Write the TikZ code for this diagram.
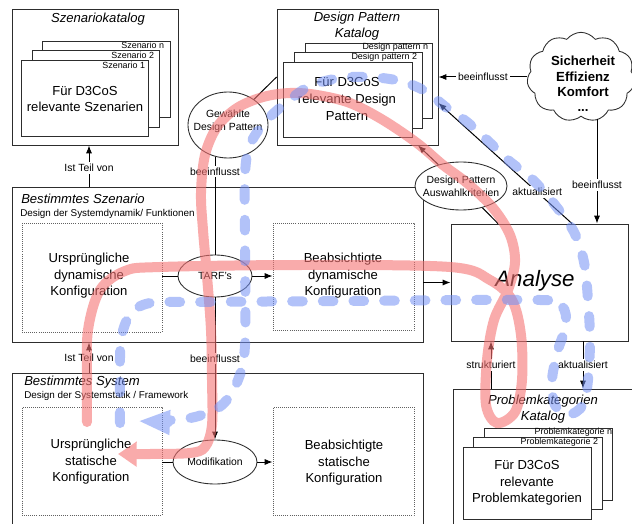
\documentclass[tikz,border=0pt]{standalone}
\usepackage{fontspec}
\setmainfont{Liberation Sans}
\usetikzlibrary{shapes.geometric,shapes.symbols,arrows.meta,fit}

\definecolor{ink}{RGB}{45,45,45}
\definecolor{redtrail}{RGB}{245,115,115}
\definecolor{bluetrail}{RGB}{115,145,245}

\newcommand\szMain{\fontsize{9.8}{12.4}\selectfont}
\newcommand\szCard{\fontsize{6.7}{8}\selectfont}
\newcommand\szSub{\fontsize{7.4}{9}\selectfont}
\newcommand\szLbl{\fontsize{7.8}{9.8}\selectfont}
\newcommand\szBig{\fontsize{16.7}{20}\selectfont}
\newcommand\szCloud{\fontsize{9.9}{11.6}\selectfont}

\begin{document}
\begin{tikzpicture}[x=0.75pt, y=-0.75pt,
  frame/.style={draw=ink, line width=0.65pt, inner sep=0pt, fit={#1}},
  card/.style={draw=ink, fill=white, line width=0.65pt, inner sep=0pt, fit={#1}},
  dotbox/.style={draw=ink!75, densely dotted, line width=0.55pt, inner sep=0pt, fit={#1}},
  oval/.style={ellipse, draw=ink, fill=white, line width=0.65pt, inner sep=0pt},
  cardlbl/.style={font=\szCard, inner sep=0.5pt, anchor=east},
  maintxt/.style={font=\szMain, align=center, inner sep=0pt},
  ovaltxt/.style={font=\szLbl, align=center, inner sep=0pt},
  title/.style={font={\szMain\itshape}, align=center, inner sep=0pt},
  sub/.style={font=\szSub, anchor=west, inner sep=0pt},
  lbl/.style={font=\szLbl, fill=white, inner sep=1.5pt},
  conn/.style={draw=black, line width=0.75pt},
  arr/.style={draw=black, line width=0.75pt, -{Latex[length=6pt,width=4.6pt]}},
]
\useasboundingbox (0,0) rectangle (632,524);
\fill[white] (0,0) rectangle (632,524);

% --- scenario catalogue
\node[frame={(12,9) (178,145)}] (szk) {};
\node[title] (szkT) at (98,19) {Szenariokatalog};
\node[card={(42,41) (170,117)}] (szk3) {};
\node[cardlbl] (szk3L) at (165,45.5) {Szenario n};
\node[card={(32,50) (159,127)}] (szk2) {};
\node[cardlbl] (szk2L) at (155,55) {Szenario 2};
\node[card={(21,60) (148,136)}] (szk1) {};
\node[cardlbl] (szk1L) at (146,65) {Szenario 1};
\node[maintxt] (szk1T) at (85,99) {Für D3CoS\\relevante Szenarien};

% --- design pattern catalogue
\node[frame={(277,9) (438,145)}] (dpk) {};
\node[title] (dpkT) at (357,26) {Design Pattern\\Katalog};
\node[card={(305,43) (432,118)}] (dpk3) {};
\node[cardlbl] (dpk3L) at (429,47.5) {Design pattern n};
\node[card={(294,52) (422,128)}] (dpk2) {};
\node[cardlbl] (dpk2L) at (418,57) {Design pattern 2};
\node[card={(283,62) (412,137)}] (dpk1) {};
\node[maintxt] (dpk1T) at (347,99) {Für D3CoS\\relevante Design\\Pattern};

% --- quality goals
\node[cloud, draw=ink, fill=white, line width=0.65pt, cloud puffs=11, cloud puff arc=105,
      aspect=1.2, minimum width=81pt, minimum height=67pt, inner sep=0pt] (cloud) at (581,77) {};
\node[font={\szCloud\bfseries}, align=center, inner sep=0pt] (cloudT) at (583,84) {Sicherheit\\Effizienz\\Komfort\\...};

% --- chosen patterns
\node[oval, minimum width=60pt, minimum height=49.5pt] (gew) at (228,125) {};
\node[ovaltxt] (gewT) at (228,121) {Gewählte\\Design Pattern};

% --- specific scenario
\node[frame={(12,187) (423,342)}] (bsz) {};
\node[title, anchor=west] (bszT) at (21,199) {Bestimmtes Szenario};
\node[sub] (bszS) at (20,214) {Design der Systemdynamik/ Funktionen};
\node[dotbox={(22,223) (162,332)}] (udyn) {};
\node[maintxt] (udynT) at (89,276) {Ursprüngliche\\dynamische\\Konfiguration};
\node[oval, minimum width=55.5pt, minimum height=31.5pt] (tarf) at (215,276) {};
\node[ovaltxt] (tarfT) at (215,276) {TARF's};
\node[dotbox={(273,223) (414,330)}] (bdyn) {};
\node[maintxt] (bdynT) at (343,276) {Beabsichtigte\\dynamische\\Konfiguration};

% --- analysis
\node[frame={(451,224) (628,341)}] (ana) {};
\node[font={\szBig\itshape}, inner sep=0pt] (anaT) at (535,281) {Analyse};
\node[oval, minimum width=69pt, minimum height=36pt] (ausw) at (461,186) {};
\node[ovaltxt] (auswT) at (461,186.5) {Design Pattern\\Auswahlkriterien};

% --- specific system
\node[frame={(12,373) (423,545)}] (bsys) {};
\node[title, anchor=west] (bsysT) at (24,382) {Bestimmtes System};
\node[sub] (bsysS) at (24,396) {Design der Systemstatik / Framework};
\node[dotbox={(22,407) (162,515)}] (ustat) {};
\node[maintxt] (ustatT) at (91,462) {Ursprüngliche\\statische\\Konfiguration};
\node[oval, minimum width=63pt, minimum height=33pt] (modif) at (215,462) {};
\node[ovaltxt] (modifT) at (215,462) {Modifikation};
\node[dotbox={(273,407) (414,515)}] (bstat) {};
\node[maintxt] (bstatT) at (344,463) {Beabsichtigte\\statische\\Konfiguration};

% --- problem category catalogue
\node[frame={(453,389) (645,545)}] (pk) {};
\node[title] (pkT) at (543,409) {Problemkategorien\\Katalog};
\node[card={(484,428) (612,500)}] (pk3) {};
\node[cardlbl] (pk3L) at (613,432.5) {Problemkategorie n};
\node[card={(473,437) (602,509)}] (pk2) {};
\node[cardlbl] (pk2L) at (599,442) {Problemkategorie 2};
\node[card={(463,447) (591,519)}] (pk1) {};
\node[maintxt] (pk1T) at (527,483) {Für D3CoS\\relevante\\Problemkategorien};

% --- connectors
\coordinate (xIst) at (89,0);
\draw[arr] (bsz.north -| xIst) -- node[lbl, pos=0.45] (lIst1) {Ist Teil von} (szk.south -| xIst);
\draw[arr] (bsys.north -| xIst) -- node[lbl] (lIst2) {Ist Teil von} (bsz.south -| xIst);
\draw[conn] (tarf.north) -- node[lbl, pos=0.85] (lBee1) {beeinflusst} (tarf.north |- gew.250);
\draw[arr] (tarf.south) -- node[lbl, pos=0.43] (lBee2) {beeinflusst} (modif.north);
\draw[conn] (udyn.east |- tarf) -- (tarf.west);
\draw[arr] (tarf.east) -- (bdyn.west |- tarf);
\draw[conn] (ustat.east |- modif) -- (modif.west);
\draw[arr] (modif.east) -- (bstat.west |- modif);
\draw[arr] (bsz.east |- ana) -- (ana.west);
\draw[conn] (gew) -- (dpk.west);
\draw[arr] (cloud.west) -- node[lbl] (lBee3) {beeinflusst} (dpk.east |- cloud.west);
\coordinate (cb) at (597,119);
\draw[arr] (cb) -- node[lbl, pos=0.63] (lBee4) {beeinflusst} (ana.north -| cb);
\coordinate (xAkt) at (572,0);
\coordinate (yAkt) at (0,103);
\draw[arr] (ana.north -| xAkt) -- node[lbl, pos=0.26] (lAkt1) {aktualisiert} (dpk.east |- yAkt);
\coordinate (xAus1) at (498,0);
\coordinate (xAus2) at (418,0);
\draw[conn] (ana.north -| xAus1) -- (ausw);
\draw[arr] (ausw) -- (dpk.south -| xAus2);
\coordinate (xStr) at (491,0);
\coordinate (xAkt2) at (583,0);
\draw[arr] (pk.north -| xStr) -- node[lbl] (lStr) {strukturiert} (ana.south -| xStr);
\draw[arr] (ana.south -| xAkt2) -- node[lbl] (lAkt2) {aktualisiert} (pk.north -| xAkt2);

% --- red design trail
\begin{scope}[transparency group, opacity=0.6]
\draw[draw=redtrail, line width=7.5pt, line cap=round, -{Triangle[length=14pt,width=18pt]}]
  plot[smooth, tension=0.55] coordinates {
  (87,422) (87,380) (88,330) (100,290) (125,271) (160,267) (300,265) (450,267)
  (490,280) (512,300) (521,335) (522,380) (515,412) (497,423) (486,405) (487,360)
  (494,320) (508,290) (515,262) (510,235) (493,208) (467,183) (443,165) (417,143)
  (383,120) (350,103) (317,95) (290,93) (263,97) (237,108) (217,127) (205,155)
  (201,193) (203,230) (207,276) (211,330) (212,380) (212,425) (205,447) (190,453)
  (150,454) (118,454)};
\end{scope}

% --- blue dashed trail
\begin{scope}[transparency group, opacity=0.55]
\draw[draw=bluetrail, line width=7.5pt, line cap=round, dash pattern=on 8pt off 15pt,
      -{Triangle[length=24pt,width=17pt]}]
  plot[smooth, tension=0.55] coordinates {
  (120,423) (120,380) (121,340) (130,315) (150,303) (200,302) (350,301) (540,300)
  (562,306) (566,325) (558,350) (552,380) (555,405) (568,415) (583,405) (588,380)
  (590,340) (588,300) (584,262) (574,232) (555,205) (533,180) (508,160) (487,140)
  (467,122) (447,108) (425,91) (400,81) (370,77) (340,78) (310,86) (287,102)
  (265,122) (250,145) (245,175) (245,250) (245,345) (238,380) (222,405) (195,417)
  (160,421) (138,421)};
\end{scope}
\end{tikzpicture}
\end{document}
